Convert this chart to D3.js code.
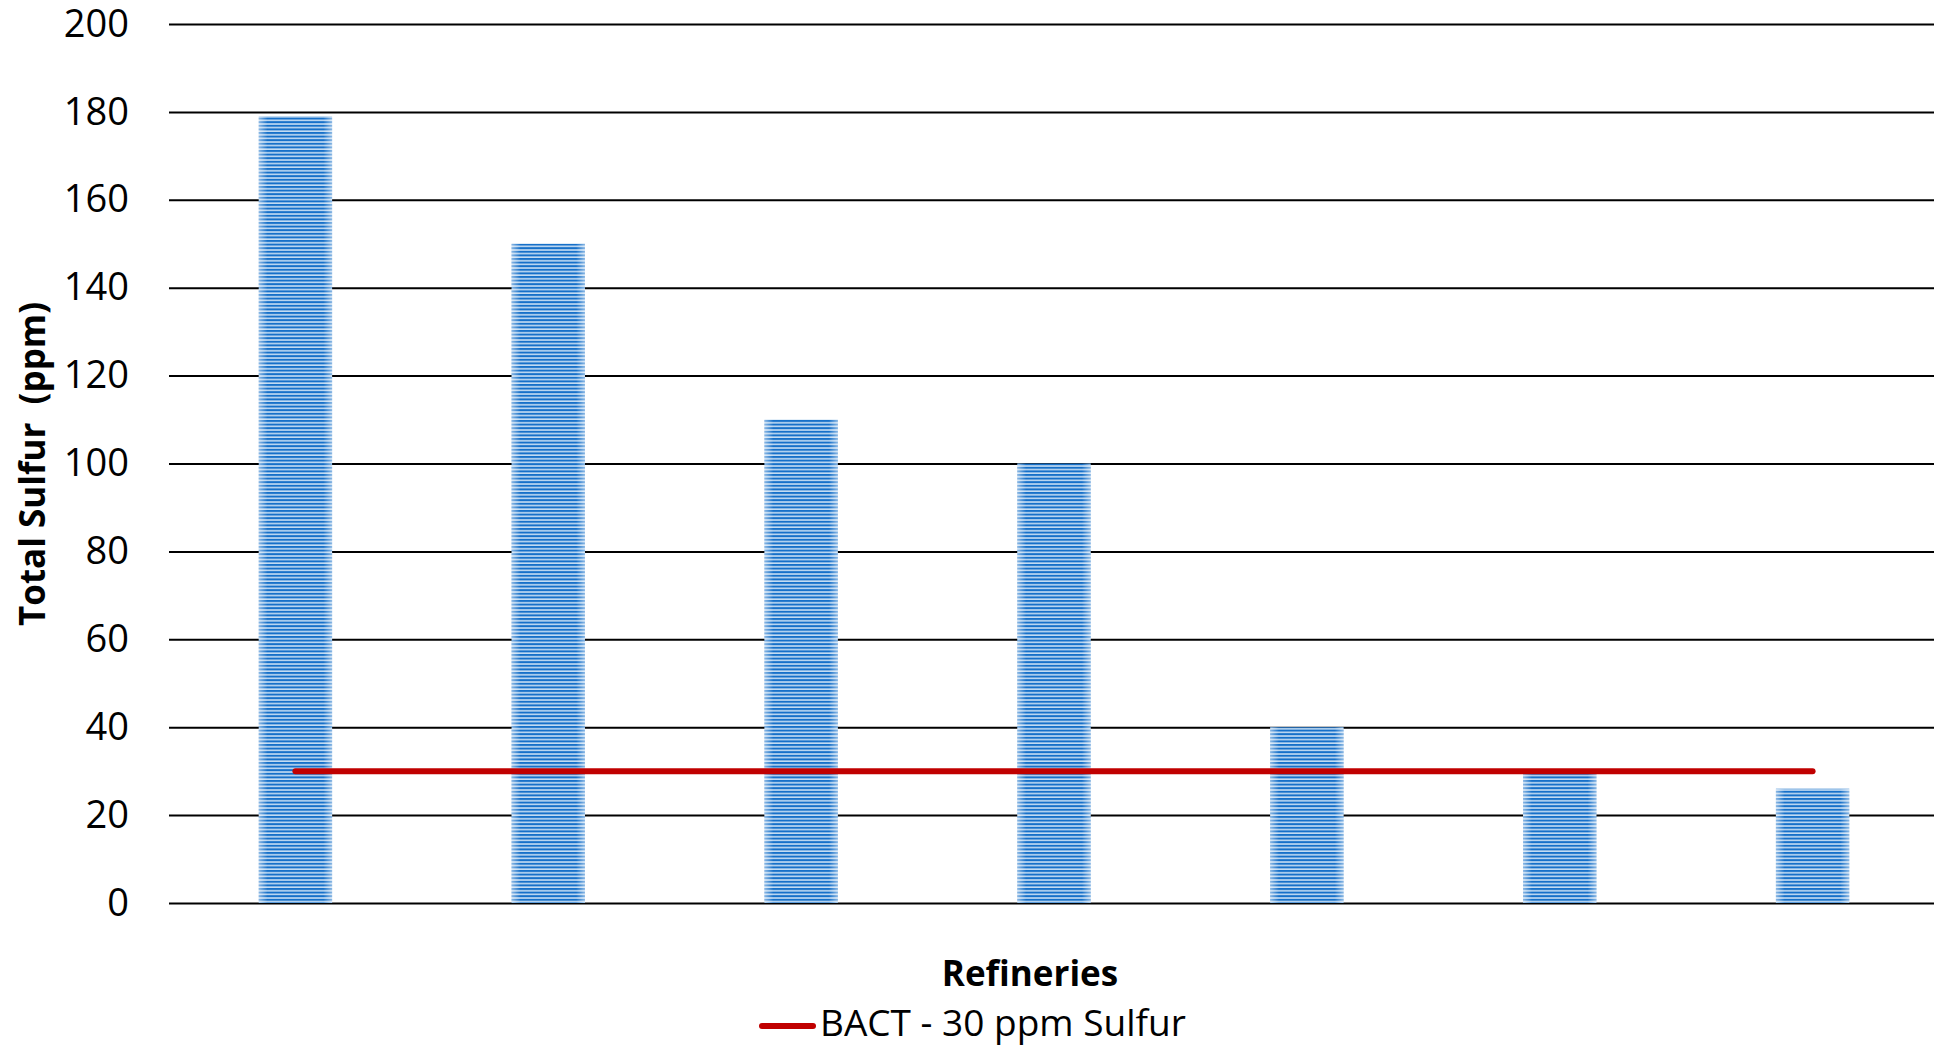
<!DOCTYPE html>
<html>
<head>
<meta charset="utf-8">
<script src="https://cdn.jsdelivr.net/npm/d3@7"></script>
<style>
  body { margin: 0; background: #fff; }
  text { font-family: "Open Sans", "Noto Sans", sans-serif; }
</style>
</head>
<body>
<div id="chart"></div>
<script>
// data
const refineries = ["R1", "R2", "R3", "R4", "R5", "R6", "R7"];
const sulfur = [179, 150, 110, 100, 40, 30, 26];
const bactLimit = [30, 30, 30, 30, 30, 30, 30];
const yTicks = [0, 20, 40, 60, 80, 100, 120, 140, 160, 180, 200];

const W = 1934, H = 1048;
const margin = {top: 24, right: -5, bottom: 145, left: 169};
const width = W - margin.left - margin.right,
    height = H - margin.top - margin.bottom;

const svg = d3.select("#chart").append("svg")
    .attr("width", W)
    .attr("height", H);

// striped fill for the bars
const defs = svg.append("defs");
const pat = defs.append("pattern")
    .attr("id", "stripes")
    .attr("patternUnits", "userSpaceOnUse")
    .attr("width", 8)
    .attr("height", 3.6);
pat.append("rect").attr("width", 8).attr("height", 3.6).attr("fill", "#c4dcf3");
pat.append("rect").attr("width", 8).attr("height", 2).attr("fill", "#1670c9");

const edge = defs.append("linearGradient")
    .attr("id", "edgeFade")
    .attr("x1", "0%").attr("x2", "100%");
[[0, 0.5], [0.12, 0], [0.88, 0], [1, 0.5]].forEach(([o, a]) => {
  edge.append("stop").attr("offset", o * 100 + "%")
      .attr("stop-color", "#ffffff").attr("stop-opacity", a);
});

const g = svg.append("g")
    .attr("transform", "translate(" + margin.left + "," + margin.top + ")");

const x = d3.scaleBand()
    .domain(refineries)
    .range([0, width])
    .paddingInner(0.71)
    .paddingOuter(0.355);

const y = d3.scaleLinear()
    .domain([0, 200])
    .range([height, 0]);

// gridlines + tick labels
const yAxis = g.append("g")
    .call(d3.axisLeft(y).tickValues(yTicks).tickSize(-width - 10).tickPadding(40));
yAxis.select(".domain").remove();
yAxis.selectAll(".tick line").attr("stroke", "#000").attr("stroke-width", 2);
yAxis.selectAll(".tick text")
    .attr("font-size", 38)
    .attr("fill", "#000");

// bars
const bars = g.append("g")
    .selectAll("g")
    .data(sulfur)
    .enter().append("g");
bars.append("rect")
    .attr("x", (d, i) => x(refineries[i]))
    .attr("y", d => y(d))
    .attr("width", x.bandwidth())
    .attr("height", d => height - y(d))
    .attr("fill", "url(#stripes)");
bars.append("rect")
    .attr("x", (d, i) => x(refineries[i]))
    .attr("y", d => y(d))
    .attr("width", x.bandwidth())
    .attr("height", d => height - y(d))
    .attr("fill", "url(#edgeFade)");

// BACT limit line
const line = d3.line()
    .x((d, i) => x(refineries[i]) + x.bandwidth() / 2)
    .y(d => y(d));
g.append("path")
    .datum(bactLimit)
    .attr("d", line)
    .attr("fill", "none")
    .attr("stroke", "#c00000")
    .attr("stroke-width", 6)
    .attr("stroke-linecap", "round");

// axis titles
svg.append("text")
    .attr("transform", "translate(45,464) rotate(-90)")
    .attr("text-anchor", "middle")
    .attr("font-size", 35)
    .attr("font-weight", "bold")
    .attr("xml:space", "preserve")
    .text("Total Sulfur  (ppm)");

svg.append("text")
    .attr("x", 1030)
    .attr("y", 986)
    .attr("text-anchor", "middle")
    .attr("font-size", 35)
    .attr("font-weight", "bold")
    .text("Refineries");

// legend
svg.append("line")
    .attr("x1", 762).attr("x2", 813)
    .attr("y1", 1026).attr("y2", 1026)
    .attr("stroke", "#c00000")
    .attr("stroke-width", 6)
    .attr("stroke-linecap", "round");
svg.append("text")
    .attr("x", 820)
    .attr("y", 1036)
    .attr("font-size", 37)
    .text("BACT - 30 ppm Sulfur");
</script>
</body>
</html>
